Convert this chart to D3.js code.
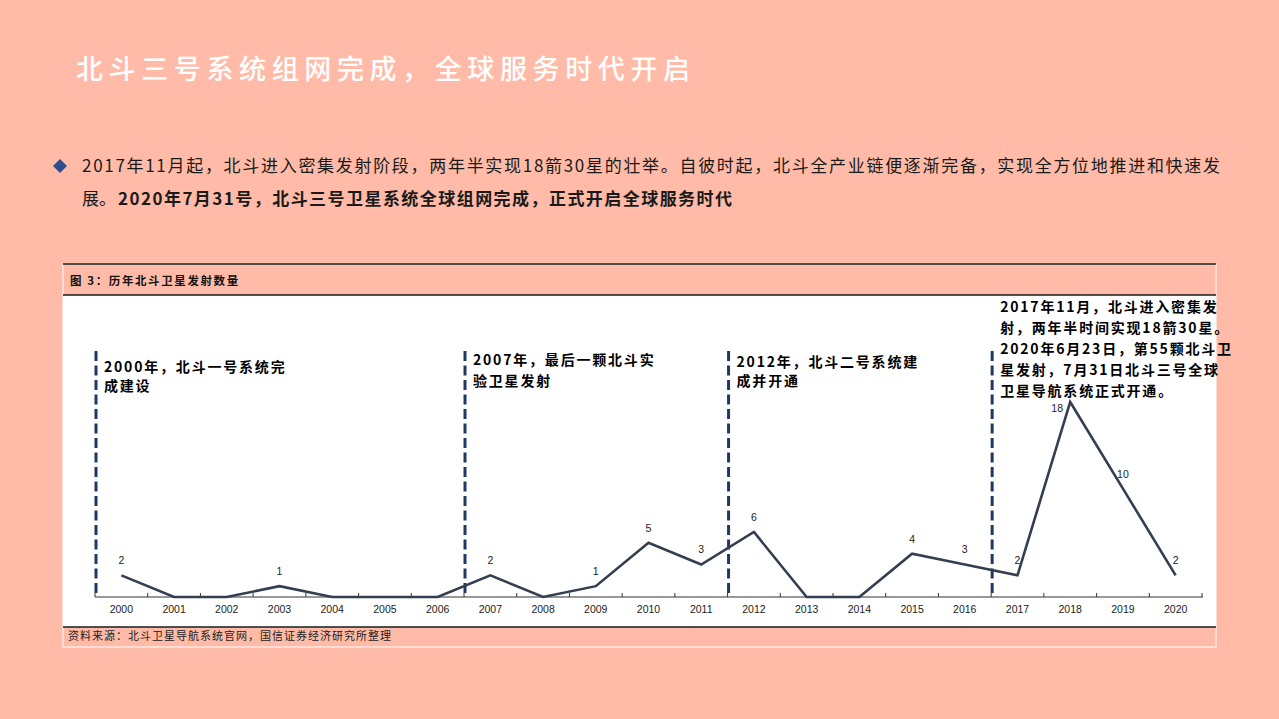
<!DOCTYPE html>
<html>
<head>
<meta charset="utf-8">
<script src="https://cdn.jsdelivr.net/npm/d3@7"></script>
<style>
  html, body { margin: 0; padding: 0; background: #FFBBA7; }
  svg { display: block; }
</style>
</head>
<body>
<div id="chart-area"></div>
<script>
// years and launches per year
const years = ["2000","2001","2002","2003","2004","2005","2006","2007","2008","2009","2010",
               "2011","2012","2013","2014","2015","2016","2017","2018","2019","2020"];
const launches = [2, 0, 0, 1, 0, 0, 0, 2, 0, 1, 5, 3, 6, 0, 0, 4, 3, 2, 18, 10, 2];

// milestone markers: dashed line sits before this year, text beside it
const milestoneYears = ["2000", "2007", "2012", "2017"];
const milestoneTexts = [
    ["2000年，北斗一号系统完", "成建设"],
    ["2007年，最后一颗北斗实", "验卫星发射"],
    ["2012年，北斗二号系统建", "成并开通"],
    ["2017年11月，北斗进入密集发", "射，两年半时间实现18箭30星。", "2020年6月23日，第55颗北斗卫",
     "星发射，7月31日北斗三号全球", "卫星导航系统正式开通。"]
];

const pageTitle = "北斗三号系统组网完成，全球服务时代开启";
const bulletLine1 = "2017年11月起，北斗进入密集发射阶段，两年半实现18箭30星的壮举。自彼时起，北斗全产业链便逐渐完备，实现全方位地推进和快速发";
const bulletLine2a = "展。";
const bulletLine2b = "2020年7月31号，北斗三号卫星系统全球组网完成，正式开启全球服务时代";
const figCaption = "图 3：历年北斗卫星发射数量";
const sourceNote = "资料来源：北斗卫星导航系统官网，国信证券经济研究所整理";

const width = 1279;
const height = 719;
const cjk = "'Noto Sans CJK SC', 'Liberation Sans', sans-serif";
const latin = "'Liberation Sans', Arial, sans-serif";

const svg = d3.select("#chart-area")
    .append("svg")
    .attr("width", width)
    .attr("height", height);

svg.append("rect").attr("width", width).attr("height", height).attr("fill", "#FFBBA7");

// page title
svg.append("text")
    .attr("x", 76).attr("y", 79)
    .attr("fill", "#ffffff")
    .style("font-family", cjk).style("font-size", "27px").style("font-weight", "500")
    .attr("textLength", 614).attr("lengthAdjust", "spacing")
    .text(pageTitle);

// bullet paragraph
svg.append("path")
    .attr("d", "M60,159 L67,166 L60,173 L53,166 Z")
    .attr("fill", "#2E4F8C");

svg.append("text")
    .attr("x", 82).attr("y", 172)
    .attr("fill", "#1a1a1a")
    .style("font-family", cjk).style("font-size", "17px")
    .attr("textLength", 1138).attr("lengthAdjust", "spacing")
    .text(bulletLine1);

const line2 = svg.append("text")
    .attr("x", 82).attr("y", 205)
    .attr("fill", "#1a1a1a")
    .style("font-family", cjk).style("font-size", "17px");
line2.append("tspan").text(bulletLine2a);
line2.append("tspan")
    .attr("x", 118)
    .style("font-weight", "700")
    .attr("textLength", 614).attr("lengthAdjust", "spacing")
    .text(bulletLine2b);

// figure panel
const panel = { left: 63, right: 1216, top: 264, headBottom: 295, plotBottom: 627, bottom: 647 };

svg.append("rect")
    .attr("x", panel.left).attr("y", panel.top)
    .attr("width", panel.right - panel.left).attr("height", panel.bottom - panel.top)
    .attr("fill", "none").attr("stroke", "#fbe9e3").attr("stroke-width", 1.5);

svg.append("rect")
    .attr("x", panel.left).attr("y", panel.headBottom)
    .attr("width", panel.right - panel.left).attr("height", panel.plotBottom - panel.headBottom)
    .attr("fill", "#ffffff");

[panel.top, panel.headBottom, panel.plotBottom].forEach(y => {
    svg.append("line")
        .attr("x1", panel.left).attr("x2", panel.right)
        .attr("y1", y).attr("y2", y)
        .attr("stroke", "#1a1a1a").attr("stroke-width", 1.5);
});

svg.append("text")
    .attr("x", 70).attr("y", 285)
    .attr("fill", "#111")
    .style("font-family", cjk).style("font-size", "11.5px").style("font-weight", "700")
    .style("letter-spacing", "1.6px")
    .text(figCaption);

svg.append("text")
    .attr("x", 68).attr("y", 640)
    .attr("fill", "#222")
    .style("font-family", cjk).style("font-size", "11px")
    .style("letter-spacing", "1px")
    .text(sourceNote);

// scales
const x = d3.scaleBand().domain(years).range([95, 1202]).padding(0);
const y = d3.scaleLinear().domain([0, 20]).range([597, 380.3]);
const cx = d => x(d) + x.bandwidth() / 2;

// x axis: line with small inside ticks at band edges
const axisG = svg.append("g");
axisG.append("line")
    .attr("x1", 95).attr("x2", 1203)
    .attr("y1", y(0)).attr("y2", y(0))
    .attr("stroke", "#333").attr("stroke-width", 1.2);

axisG.selectAll("line.tick")
    .data(d3.range(years.length + 1))
    .enter()
    .append("line")
    .attr("class", "tick")
    .attr("x1", i => 95 + i * x.bandwidth())
    .attr("x2", i => 95 + i * x.bandwidth())
    .attr("y1", y(0)).attr("y2", y(0) - 4)
    .attr("stroke", "#333").attr("stroke-width", 1);

axisG.selectAll("text")
    .data(years)
    .enter()
    .append("text")
    .attr("x", d => cx(d))
    .attr("y", 613)
    .attr("text-anchor", "middle")
    .attr("fill", "#222")
    .style("font-family", latin).style("font-size", "10.5px")
    .text(d => d);

// milestone dashed lines
svg.selectAll("line.milestone")
    .data(milestoneYears)
    .enter()
    .append("line")
    .attr("class", "milestone")
    .attr("x1", d => x(d) + 1).attr("x2", d => x(d) + 1)
    .attr("y1", 351).attr("y2", y(0))
    .attr("stroke", "#1F3864").attr("stroke-width", 3)
    .attr("stroke-dasharray", "10,4.5");

// the launches line
const pts = years.map((d, i) => ({ year: d, value: launches[i] }));
const lineGen = d3.line().x(d => cx(d.year)).y(d => y(d.value));

svg.append("path")
    .datum(pts)
    .attr("d", lineGen)
    .attr("fill", "none")
    .attr("stroke", "#333F50")
    .attr("stroke-width", 2.6)
    .attr("stroke-linejoin", "miter");

// value labels (zero years are not labelled)
const maxVal = d3.max(launches);
svg.selectAll("text.value")
    .data(pts.filter(d => d.value > 0))
    .enter()
    .append("text")
    .attr("class", "value")
    .attr("x", d => d.value === maxVal ? cx(d.year) - 13 : cx(d.year))
    .attr("y", d => d.value === maxVal ? y(d.value) + 10 : y(d.value) - 11)
    .attr("text-anchor", "middle")
    .attr("fill", "#222")
    .style("font-family", latin).style("font-size", "10.5px")
    .text(d => d.value);

// milestone annotations
const noteTop = [372, 365, 367, 312];
const noteStep = [19, 21, 19, 21];
milestoneYears.forEach((yr, k) => {
    const t = svg.append("text")
        .attr("fill", "#000")
        .style("font-family", cjk).style("font-size", "14px").style("font-weight", "700")
        .style("letter-spacing", "1.8px");
    milestoneTexts[k].forEach((s, j) => {
        t.append("tspan")
            .attr("x", x(yr) + 9)
            .attr("y", noteTop[k] + j * noteStep[k])
            .text(s);
    });
});
</script>
</body>
</html>
